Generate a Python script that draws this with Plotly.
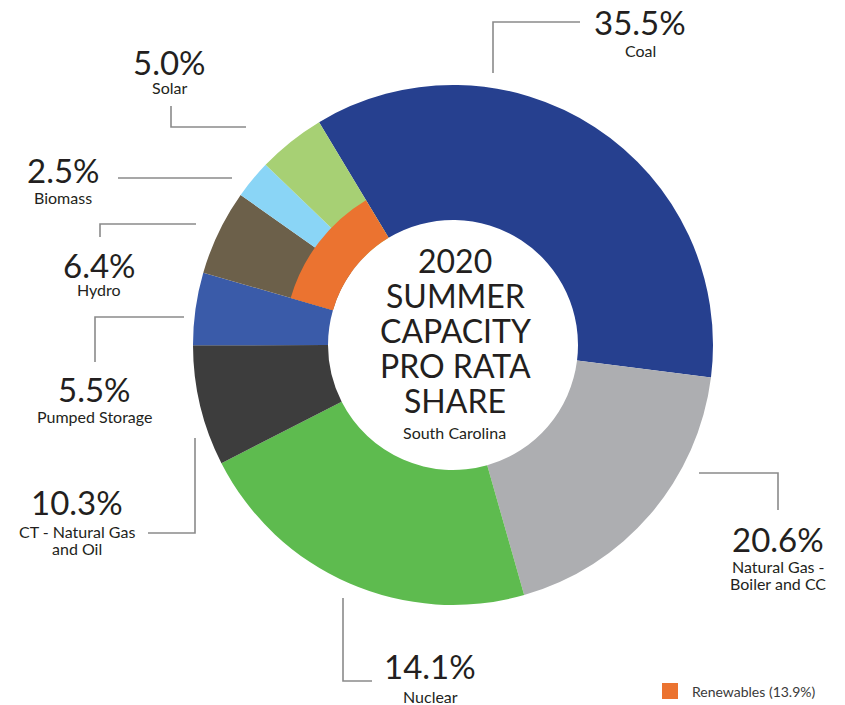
"""2020 summer capacity pro rata share, South Carolina, as a Plotly donut."""

import plotly.graph_objects as go

# slices clockwise from coal
labels = [
    "Coal",
    "Natural Gas -<br>Boiler and CC",
    "Nuclear",
    "CT - Natural Gas<br>and Oil",
    "Pumped Storage",
    "Hydro",
    "Biomass",
    "Solar",
]
printed_share = [35.5, 20.6, 14.1, 10.3, 5.5, 6.4, 2.5, 5.0]
# arc sizes as drawn in the source graphic (they do not follow the printed labels)
arc_share = [35.6, 18.6, 21.9, 7.5, 4.5, 5.3, 2.4, 4.2]
colors = ["#26408f", "#adaeb1", "#5ebb4f", "#3d3d3d", "#3a5ba9", "#6c604a", "#8ad5f6", "#a7d074"]
renewables = ["Hydro", "Biomass", "Solar"]

W, H = 845, 705
CX, CY = 453, 345
R_OUT, R_MID, R_HOLE = 260, 169, 125
TEXT = "#231f20"
LINE = "#8a8a8a"
FONT = "Lato, 'Open Sans', Arial, sans-serif"


def px(x):
    return x / W


def py(y):
    return 1 - y / H


def box(r):
    return dict(x=[px(CX - r), px(CX + r)], y=[py(CY + r), py(CY - r)])


start_angle = -31
ren_idx = [labels.index(n) for n in renewables]
ren_arc = sum(arc_share[i] for i in ren_idx)
ren_printed = sum(printed_share[i] for i in ren_idx)
ren_start = start_angle + sum(arc_share[: ren_idx[0]]) * 3.6
ren_start = (ren_start + 180) % 360 - 180

fig = go.Figure()
fig.add_trace(
    go.Pie(
        labels=labels,
        values=arc_share,
        sort=False,
        direction="clockwise",
        rotation=start_angle,
        hole=R_HOLE / R_OUT,
        marker=dict(colors=colors, line=dict(width=0)),
        textinfo="none",
        domain=box(R_OUT),
        showlegend=False,
    )
)
fig.add_trace(
    go.Pie(
        labels=["Renewables", ""],
        values=[ren_arc, 100 - ren_arc],
        sort=False,
        direction="clockwise",
        rotation=ren_start,
        hole=R_HOLE / R_MID,
        marker=dict(colors=["#eb7330", "rgba(0,0,0,0)"], line=dict(width=0)),
        textinfo="none",
        hoverinfo="skip",
        domain=box(R_MID),
        showlegend=False,
    )
)

# label anchors (centre x, percent y, name y) and leader paths
label_pos = {
    "Coal": (640, 22, 51),
    "Natural Gas -<br>Boiler and CC": (778, 539, 574),
    "Nuclear": (430, 666, 696),
    "CT - Natural Gas<br>and Oil": (77, 502, 539),
    "Pumped Storage": (94, 389, 416),
    "Hydro": (99, 265, 290),
    "Biomass": (63, 170, 197),
    "Solar": (169, 62, 88),
}
leaders = [
    [(580, 22), (493, 22), (493, 73)],
    [(699, 473), (778, 473), (778, 510)],
    [(343, 598), (343, 681), (372, 681)],
    [(195, 438), (195, 533), (148, 533)],
    [(184, 317), (95, 317), (95, 362)],
    [(196, 224), (100, 224), (100, 237)],
    [(232, 178), (118, 178)],
    [(171, 106), (171, 127), (246, 127)],
]

annotations = []
for name, share in zip(labels, printed_share):
    x, y_pct, y_name = label_pos[name]
    annotations.append(
        dict(x=px(x), y=py(y_pct), text=f"{share:.1f}%", font=dict(size=33, color=TEXT))
    )
    if "<br>" in name:
        for k, part in enumerate(name.split("<br>")):
            annotations.append(
                dict(x=px(x), y=py(y_name - 8 + 17 * k), text=part, font=dict(size=16, color=TEXT))
            )
    else:
        annotations.append(dict(x=px(x), y=py(y_name), text=name, font=dict(size=16, color=TEXT)))

title_lines = ["2020", "SUMMER", "CAPACITY", "PRO RATA", "SHARE"]
for k, line in enumerate(title_lines):
    annotations.append(
        dict(x=px(455), y=py(260 + 35.2 * k), text=line, font=dict(size=32, color=TEXT))
    )
annotations.append(dict(x=px(454), y=py(432), text="South Carolina", font=dict(size=16, color=TEXT)))
annotations.append(
    dict(
        x=px(690), y=py(691), text=f"Renewables ({ren_printed:.1f}%)",
        xanchor="left", font=dict(size=14, color="#3a3a3a"),
    )
)
for a in annotations:
    a.setdefault("xanchor", "center")
    a.update(xref="paper", yref="paper", yanchor="middle", showarrow=False)

shapes = []
for pts in leaders:
    path = "M " + " L ".join(f"{px(x)},{py(y)}" for x, y in pts)
    shapes.append(dict(type="path", xref="paper", yref="paper", path=path, line=dict(color=LINE, width=1.6)))
shapes.append(
    dict(
        type="rect", xref="paper", yref="paper",
        x0=px(662), x1=px(678), y0=py(699), y1=py(683),
        fillcolor="#eb7330", line=dict(width=0),
    )
)

fig.update_layout(
    width=W,
    height=H,
    margin=dict(l=0, r=0, t=0, b=0),
    paper_bgcolor="white",
    plot_bgcolor="white",
    font=dict(family=FONT, color=TEXT),
    annotations=annotations,
    shapes=shapes,
)
# the page body has a default 8px margin; drop it so the figure sits at the origin
fig.write_html(
    "out.html",
    config={"displayModeBar": False},
    post_script="document.body.style.margin = '0';",
)
